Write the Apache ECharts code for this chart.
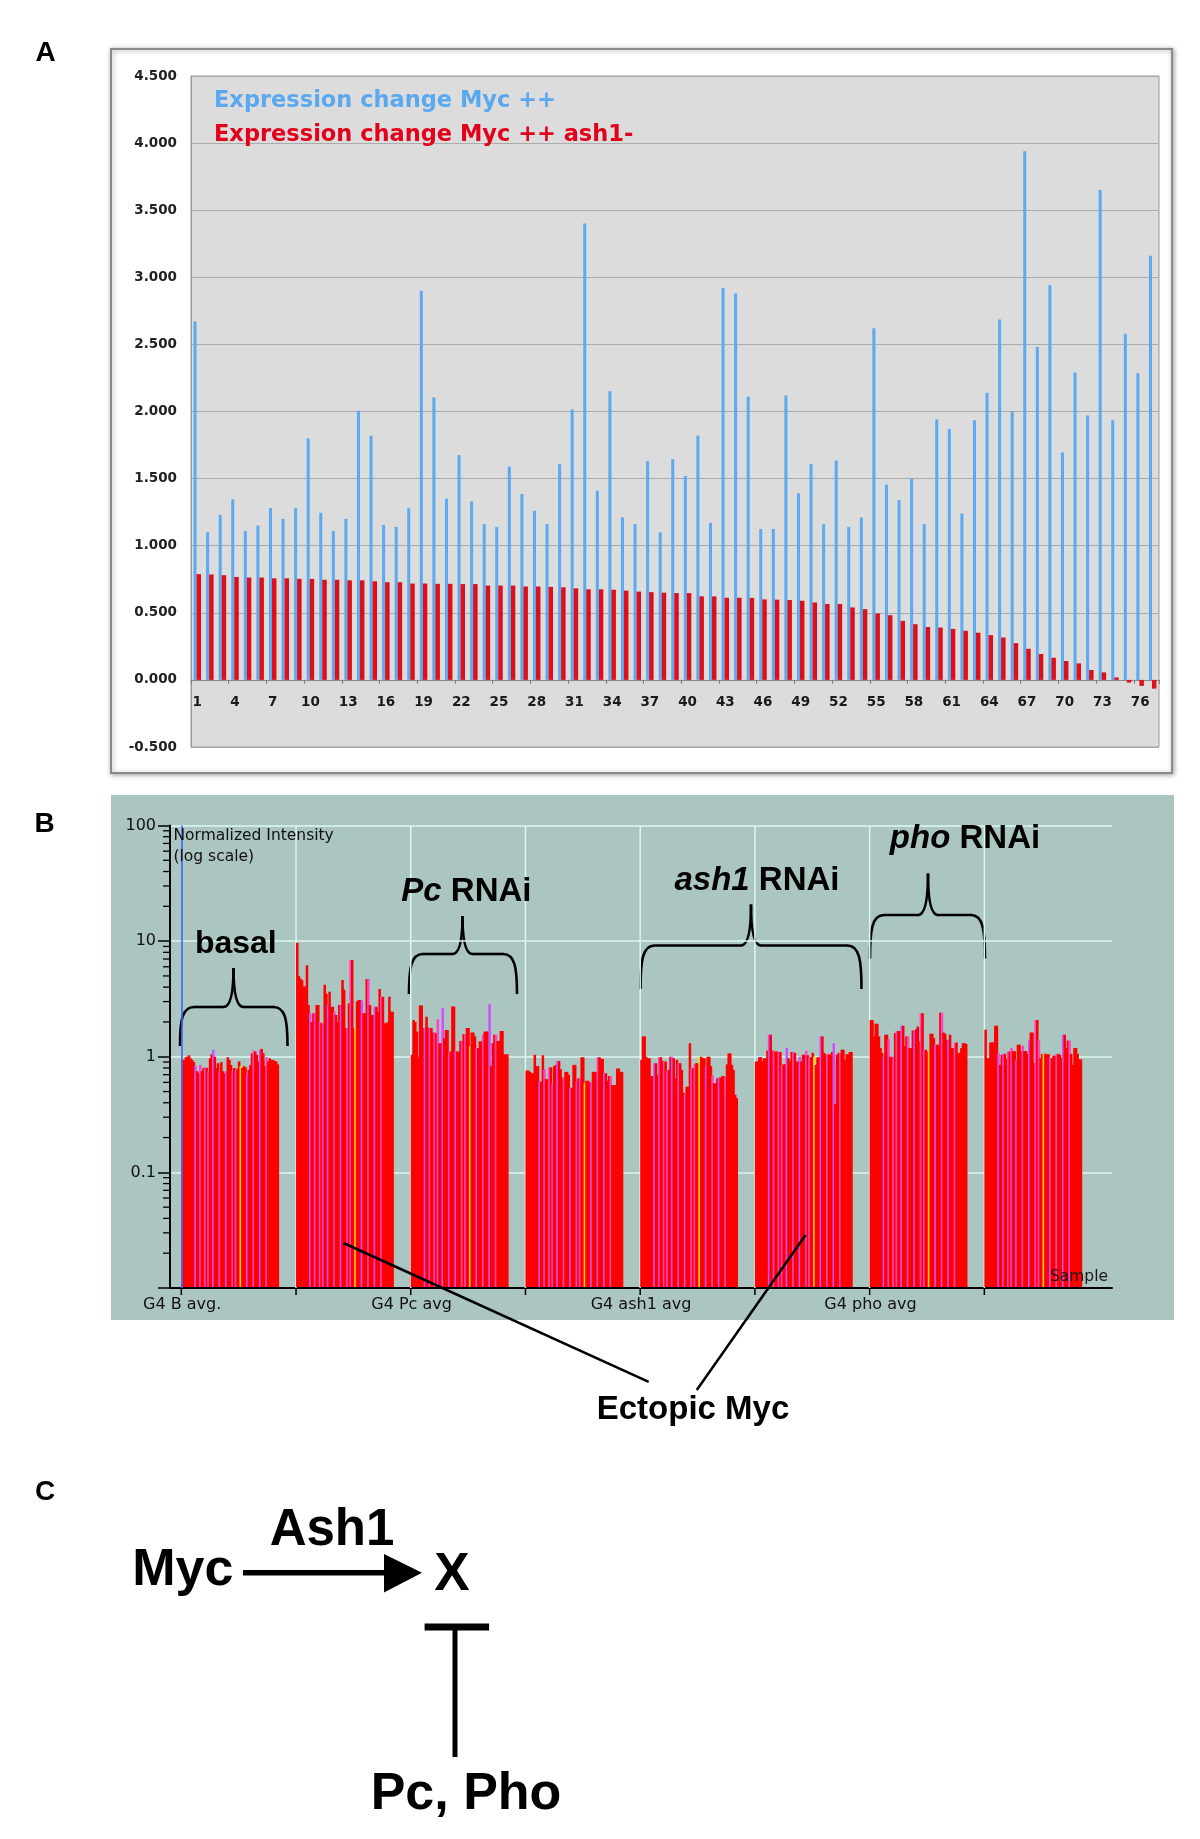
<!DOCTYPE html>
<html><head><meta charset="utf-8">
<script src="https://cdn.jsdelivr.net/npm/echarts@6/dist/echarts.min.js"></script>
<style>html,body{margin:0;padding:0;background:#fff}#c{width:1200px;height:1839px}</style>
</head><body><div id="c"></div>
<script>
// ---------- Panel A data ----------
const categoriesA = [1,2,3,4,5,6,7,8,9,10,11,12,13,14,15,16,17,18,19,20,21,22,23,24,25,26,27,28,29,30,31,32,33,34,35,36,37,38,39,40,41,42,43,44,45,46,47,48,49,50,51,52,53,54,55,56,57,58,59,60,61,62,63,64,65,66,67,68,69,70,71,72,73,74,75,76,77];
const changeMyc = [2.67,1.10,1.23,1.345,1.11,1.15,1.28,1.20,1.28,1.80,1.245,1.11,1.20,2.005,1.82,1.155,1.14,1.28,2.90,2.105,1.35,1.675,1.33,1.16,1.14,1.59,1.385,1.26,1.16,1.61,2.015,3.40,1.41,2.15,1.21,1.16,1.63,1.10,1.645,1.52,1.82,1.17,2.92,2.88,2.11,1.125,1.125,2.12,1.39,1.61,1.16,1.635,1.14,1.21,2.62,1.455,1.34,1.50,1.16,1.94,1.87,1.24,1.935,2.14,2.685,2.00,3.94,2.48,2.94,1.695,2.29,1.97,3.65,1.935,2.58,2.285,3.16];
const changeMycAsh1 = [0.788,0.785,0.78,0.767,0.763,0.763,0.757,0.757,0.753,0.753,0.746,0.746,0.742,0.742,0.735,0.728,0.728,0.718,0.718,0.716,0.716,0.714,0.714,0.703,0.703,0.703,0.696,0.696,0.693,0.69,0.682,0.675,0.675,0.672,0.665,0.658,0.654,0.65,0.647,0.647,0.623,0.622,0.612,0.612,0.611,0.60,0.598,0.595,0.59,0.577,0.566,0.566,0.54,0.527,0.496,0.482,0.44,0.415,0.394,0.39,0.38,0.366,0.352,0.334,0.316,0.274,0.232,0.193,0.165,0.141,0.123,0.074,0.056,0.018,-0.02,-0.045,-0.065];
const legendA = ['Expression change Myc ++', 'Expression change Myc ++ ash1-'];

// ---------- Panel B data (normalized intensity, 60 genes per sample) ----------
const sampleLabels = ['G4 B avg.', '', 'G4 Pc avg', '', 'G4 ash1 avg', '', 'G4 pho avg', ''];
const sBasal = [0.94,0.94,0.99,1.0,1.03,0.97,0.94,0.90,0.83,0.75,0.72,0.85,0.75,0.80,0.81,0.80,0.75,0.97,1.05,1.15,1.0,0.80,0.88,0.75,0.90,0.75,0.72,0.75,0.99,0.94,0.85,0.75,0.80,0.76,0.79,0.91,0.83,0.80,0.83,0.81,0.72,0.77,0.85,1.07,1.13,1.11,1.04,0.91,1.15,1.17,1.07,0.83,0.99,0.91,0.97,0.94,0.94,0.92,0.91,0.86];
const sMycPc1 = [9.7,5.0,4.75,4.6,4.05,4.05,6.2,2.8,2.38,2.0,2.38,2.38,2.8,2.8,2.0,1.95,1.9,4.2,3.5,2.8,3.65,2.7,2.7,2.45,2.3,2.0,2.8,2.8,4.6,3.8,1.77,1.77,2.9,6.85,6.85,1.77,1.77,3.0,3.1,3.1,3.05,2.38,2.38,4.7,4.7,2.8,2.3,2.3,2.7,2.7,2.45,3.85,3.3,3.3,1.95,1.95,2.0,3.3,2.45,2.45];
const sPc = [1.04,2.08,2.0,1.65,1.0,2.77,2.77,1.77,1.77,2.22,1.79,1.77,1.77,1.62,1.62,1.6,2.11,1.31,1.31,2.63,1.45,1.7,1.7,1.11,1.11,2.72,2.72,1.11,1.11,1.11,1.37,1.37,1.57,1.57,1.77,1.77,1.23,1.62,1.62,1.5,1.19,1.19,1.36,1.36,1.55,1.65,1.65,1.65,2.85,0.83,1.31,1.55,1.55,1.37,1.37,1.67,1.67,1.05,1.05,1.05];
const sMycAsh1a = [0.76,0.76,0.74,0.72,0.72,1.04,0.83,0.83,0.61,0.61,1.03,0.78,0.64,0.64,0.81,0.81,0.59,0.83,0.85,0.92,0.92,0.78,0.66,0.66,0.74,0.74,0.70,0.54,0.54,0.85,0.85,0.61,0.65,0.65,0.99,0.99,0.59,0.62,0.62,0.60,0.60,0.74,0.74,0.74,0.99,0.99,0.96,0.96,0.72,0.72,0.62,0.68,0.68,0.57,0.57,0.57,0.79,0.79,0.74,0.74];
const sAsh1 = [0.94,1.5,1.5,1.0,0.97,0.97,0.68,0.68,0.88,0.88,0.70,0.99,0.99,0.92,0.91,0.91,0.75,0.77,1.0,1.0,0.97,0.65,0.94,0.88,0.88,0.77,0.49,0.47,0.55,0.55,1.31,0.8,0.8,0.86,0.88,0.88,1.0,1.0,0.97,0.97,0.83,1.0,1.0,0.83,0.69,0.59,0.59,0.65,0.66,0.66,0.68,0.68,0.68,0.86,1.07,1.07,0.85,0.77,0.47,0.44];
const sMycAsh1b = [0.91,0.91,0.99,0.99,0.91,0.97,0.97,1.13,1.55,1.55,1.13,1.13,1.11,1.11,1.1,1.1,0.83,0.86,0.86,1.19,0.97,0.91,1.1,1.1,1.08,0.91,0.91,1.0,0.91,1.04,1.04,1.13,1.03,0.99,0.99,1.08,1.0,0.85,0.99,0.99,1.5,1.5,1.08,1.05,1.05,1.05,1.05,1.1,1.31,0.39,1.04,1.08,1.08,1.15,1.15,0.94,1.05,1.05,1.1,1.1];
const sPho = [2.08,2.08,1.5,1.93,1.93,1.5,1.19,1.08,1.0,1.55,1.55,1.42,1.0,1.0,1.0,1.6,1.67,1.67,1.67,1.85,1.85,1.23,1.5,1.5,1.19,1.19,1.69,1.69,1.73,1.83,1.36,2.38,2.38,1.15,1.15,1.11,1.11,1.58,1.58,1.45,1.27,1.27,1.27,2.4,2.4,1.62,1.58,1.4,1.4,1.55,1.19,1.19,1.31,1.33,1.08,1.08,1.19,1.31,1.31,1.29];
const sMycPho = [1.71,0.97,0.97,1.33,1.33,1.33,1.85,1.85,1.08,0.85,1.04,1.06,1.06,0.97,1.11,1.11,1.19,1.12,1.12,0.93,1.27,1.27,1.12,1.25,1.12,1.12,1.06,1.38,1.62,1.62,0.88,2.08,2.08,1.39,0.97,1.06,1.06,1.06,1.05,1.05,0.98,0.97,1.02,1.02,1.06,1.06,1.04,0.98,1.55,1.55,1.19,1.38,1.38,1.06,0.85,1.19,1.19,1.06,0.95,0.95];
const groupValues = [sBasal, sMycPc1, sPc, sMycAsh1a, sAsh1, sMycAsh1b, sPho, sMycPho];
const magentaGenes = [8,19,27,40,48];
const pinkGenes = [11,14,16,23,31,33,44,52];
const yellowGenes = [36];

// ---------- layout of sample slots on the category axis ----------
const LEAD = 7, PITCH = 71, TOTAL = 583;
const groupStart = groupValues.map((a, g) => LEAD + PITCH * g);
const slotCats = [];
for (let i = 0; i < TOTAL; i++) slotCats.push(String(i));
const slotLabel = {};
groupStart.forEach((s, g) => { if (sampleLabels[g]) slotLabel[s] = sampleLabels[g]; });
const barColors = ['#ff0000', '#ff45c0', '#d24dff', '#ffd21f'];
const dataB = [];
groupValues.forEach((arr, g) => arr.forEach((v, j) => {
  const code = magentaGenes.includes(j) ? 2 : pinkGenes.includes(j) ? 1 : yellowGenes.includes(j) ? 3 : 0;
  dataB.push([groupStart[g] + j, v, code]);
}));
const boundaryData = groupStart.map(s => [s, 1]);
const minorTicks = [];
[0.01, 0.1, 1, 10].forEach(d => { for (let m = 2; m <= 9; m++) minorTicks.push([0, +(m * d).toPrecision(3)]); });

const SANS = '"Liberation Sans", Arial, sans-serif';
const DJV = '"DejaVu Sans", Verdana, sans-serif';

function txt(x, y, text, size, opts) {
  opts = opts || {};
  return {
    type: 'text', x: x, y: y, z: 100,
    style: {
      text: text, fill: opts.fill || '#000',
      fontSize: size, fontWeight: opts.weight || 'bold', fontFamily: opts.family || SANS,
      fontStyle: opts.style || 'normal',
      textAlign: opts.align || 'center',
      textVerticalAlign: 'middle'
    }
  };
}
const BR = { fill: null, stroke: '#000', lineWidth: 2.6 };
function brace(xL, xR, yEnd, yH, xM, yP) {
  const re = 14, rp = 10, k = yH + (yEnd - yH) * 0.35;
  return {
    type: 'group', z: 100,
    children: [
      { type: 'bezierCurve', shape: { x1: xL, y1: yEnd, cpx1: xL, cpy1: k, cpx2: xL + 2, cpy2: yH, x2: xL + re, y2: yH }, style: BR },
      { type: 'line', shape: { x1: xL + re - 0.5, y1: yH, x2: xM - rp + 0.5, y2: yH }, style: BR },
      { type: 'bezierCurve', shape: { x1: xM - rp, y1: yH, cpx1: xM, cpy1: yH, x2: xM, y2: yP }, style: BR },
      { type: 'bezierCurve', shape: { x1: xM, y1: yP, cpx1: xM, cpy1: yH, x2: xM + rp, y2: yH }, style: BR },
      { type: 'line', shape: { x1: xM + rp - 0.5, y1: yH, x2: xR - re + 0.5, y2: yH }, style: BR },
      { type: 'bezierCurve', shape: { x1: xR - re, y1: yH, cpx1: xR - 2, cpy1: yH, cpx2: xR, cpy2: k, x2: xR, y2: yEnd }, style: BR }
    ]
  };
}
function richLabel(x, y, it, rest) {
  return {
    type: 'text', x: x, y: y, z: 100,
    style: {
      text: '{i|' + it + '}{n|' + rest + '}',
      rich: {
        i: { fontStyle: 'italic', fontWeight: 'bold', fontSize: 33, fontFamily: SANS, fill: '#000' },
        n: { fontWeight: 'bold', fontSize: 33, fontFamily: SANS, fill: '#000' }
      },
      fontSize: 33, fontWeight: 'bold', fontFamily: SANS, fill: '#000',
      textAlign: 'center', textVerticalAlign: 'middle'
    }
  };
}

const chart = echarts.init(document.getElementById('c'), null, { renderer: 'canvas' });
const option = {
  animation: false,
  backgroundColor: '#ffffff',
  grid: [
    { left: 191, top: 76, width: 968, height: 671, show: true, backgroundColor: '#dcdcdc', borderColor: '#9a9a9a', borderWidth: 1 },
    { left: 170, top: 825.5, width: 942, height: 462.5, show: false }
  ],
  xAxis: [
    {
      type: 'category', gridIndex: 0, data: categoriesA, position: 'bottom', offset: -67.1,
      axisLine: { onZero: false, lineStyle: { color: '#8c8c8c', width: 1 } },
      axisTick: { show: true, interval: 2, length: 4, lineStyle: { color: '#7a7a7a' } },
      axisLabel: { interval: 2, fontSize: 13.5, fontWeight: 'bold', fontFamily: DJV, color: '#1a1a1a', margin: 16 },
      splitLine: { show: false }
    },
    {
      type: 'category', gridIndex: 1, data: slotCats,
      axisLine: { lineStyle: { color: '#000', width: 2 } },
      axisTick: { show: false },
      axisLabel: { interval: (i) => slotLabel[i] !== undefined, formatter: (v, i) => slotLabel[i] || '', fontSize: 16, fontFamily: DJV, color: '#111', margin: 9 },
      splitLine: { show: false }
    }
  ],
  yAxis: [
    {
      type: 'value', gridIndex: 0, min: -0.5, max: 4.5, interval: 0.5,
      axisLine: { show: true, lineStyle: { color: '#999' } },
      axisTick: { show: false },
      axisLabel: { formatter: (v) => v.toFixed(3), fontSize: 13.5, fontWeight: 'bold', fontFamily: DJV, color: '#222', margin: 14 },
      splitLine: { show: true, lineStyle: { color: '#ababab', width: 1 } }
    },
    {
      type: 'log', gridIndex: 1, logBase: 10, min: 0.01, max: 100,
      axisLine: { show: true, lineStyle: { color: '#000', width: 2 } },
      axisTick: { show: true, length: 12, lineStyle: { color: '#000', width: 1.5 } },
      axisLabel: {
        fontSize: 16, fontFamily: DJV, color: '#111', margin: 14,
        formatter: (v) => { const e = Math.round(Math.log10(v)); return ({ '-1': '0.1', '0': '1', '1': '10', '2': '100' })[e] || ''; }
      },
      splitLine: { show: true, lineStyle: { color: '#dcf6f1', width: 1.5 } }
    }
  ],
  series: [
    {
      name: legendA[0], type: 'bar', xAxisIndex: 0, yAxisIndex: 0, data: changeMyc,
      barWidth: 3, barGap: '0%', itemStyle: { color: '#5aa9f3' }
    },
    {
      name: legendA[1], type: 'bar', xAxisIndex: 0, yAxisIndex: 0, data: changeMycAsh1,
      barWidth: 4.5, barGap: '0%', itemStyle: { color: '#dc101c' }
    },
    {
      name: 'sampleBoundaries', type: 'custom', xAxisIndex: 1, yAxisIndex: 1, data: boundaryData,
      encode: { x: 0, y: 1 }, z: 1, silent: true,
      renderItem: function (params, api) {
        const slot = api.value(0);
        const w = api.size([1, 1], [slot, 1])[0];
        const x = api.coord([slot, 1])[0] - w / 2;
        const cs = params.coordSys;
        const children = [
          { type: 'line', shape: { x1: x, y1: cs.y + cs.height, x2: x, y2: cs.y + cs.height + 7 }, style: { stroke: '#000', lineWidth: 1.5 } }
        ];
        if (slot !== LEAD) children.push({ type: 'line', shape: { x1: x, y1: cs.y, x2: x, y2: cs.y + cs.height }, style: { stroke: '#dcf6f1', lineWidth: 1.5 } });
        return { type: 'group', children: children };
      }
    },
    {
      name: 'Normalized Intensity', type: 'custom', xAxisIndex: 1, yAxisIndex: 1, data: dataB,
      encode: { x: 0, y: 1 }, z: 3,
      renderItem: function (params, api) {
        const slot = api.value(0), v = api.value(1), code = api.value(2);
        const top = api.coord([slot, v]);
        const base = api.coord([slot, 0.01]);
        const w = api.size([1, 1], [slot, 1])[0];
        return { type: 'rect', shape: { x: top[0] - w / 2, y: top[1], width: w + 0.9, height: base[1] - top[1] - 1 }, style: { fill: barColors[code] } };
      }
    },
    {
      name: 'minorTicks', type: 'custom', xAxisIndex: 1, yAxisIndex: 1, data: minorTicks,
      encode: { x: 0, y: 1 }, z: 5, silent: true,
      renderItem: function (params, api) {
        const p = api.coord([0, api.value(1)]);
        const x0 = params.coordSys.x;
        return { type: 'line', shape: { x1: x0 - 7, y1: p[1], x2: x0, y2: p[1] }, style: { stroke: '#000', lineWidth: 1.3 } };
      }
    },
    {
      name: 'marker', type: 'line', xAxisIndex: 1, yAxisIndex: 1, data: [], z: 6,
      markLine: { symbol: 'none', silent: true, label: { show: false }, lineStyle: { color: '#3a66ff', width: 1.6, type: 'solid' }, data: [{ xAxis: String(LEAD) }] }
    }
  ],
  graphic: [
    { type: 'rect', z: -10, shape: { x: 111, y: 49, width: 1061, height: 724 }, style: { fill: '#fff', stroke: '#8a8a8a', lineWidth: 2, shadowBlur: 5, shadowColor: 'rgba(0,0,0,0.35)', shadowOffsetX: 1, shadowOffsetY: 1 } },
    { type: 'rect', z: -10, shape: { x: 111, y: 795, width: 1063, height: 525 }, style: { fill: '#abc5c1' } },
    txt(45.5, 53, 'A', 28),
    txt(44.6, 824.6, 'B', 28),
    txt(45, 1492, 'C', 28),
    txt(214, 101, legendA[0], 22.5, { align: 'left', family: DJV, fill: '#5aa8f0' }),
    txt(214, 135, legendA[1], 22.5, { align: 'left', family: DJV, fill: '#e3001b' }),
    txt(173.5, 836.4, 'Normalized Intensity', 15.5, { align: 'left', family: DJV, weight: 'normal', fill: '#111' }),
    txt(173.5, 856.8, '(log scale)', 15.5, { align: 'left', family: DJV, weight: 'normal', fill: '#111' }),
    txt(1108, 1276.5, 'Sample', 15.5, { align: 'right', family: DJV, weight: 'normal', fill: '#1a1a1a' }),
    brace(180, 287.5, 1046, 1007, 233.5, 968),
    brace(409, 517, 994, 954, 462.5, 916),
    brace(640.5, 861.5, 989, 945.5, 751, 904.5),
    brace(870, 985, 958.5, 915, 928, 873.5),
    txt(235.8, 944.5, 'basal', 32),
    richLabel(466.4, 891.5, 'Pc', ' RNAi'),
    richLabel(757, 880.5, 'ash1', ' RNAi'),
    richLabel(965, 838.7, 'pho', ' RNAi'),
    { type: 'line', z: 100, shape: { x1: 343.5, y1: 1243, x2: 648.7, y2: 1381.8 }, style: { stroke: '#000', lineWidth: 2.5 } },
    { type: 'line', z: 100, shape: { x1: 805.6, y1: 1235, x2: 696.8, y2: 1390 }, style: { stroke: '#000', lineWidth: 2.5 } },
    txt(693, 1410, 'Ectopic Myc', 33),
    // Panel C
    txt(182.8, 1571, 'Myc', 52),
    txt(332, 1531, 'Ash1', 51),
    txt(452, 1575.5, 'X', 53),
    txt(466, 1794.5, 'Pc, Pho', 52),
    { type: 'line', z: 100, shape: { x1: 243, y1: 1572.7, x2: 388, y2: 1572.7 }, style: { stroke: '#000', lineWidth: 5.5 } },
    { type: 'polygon', z: 100, shape: { points: [[384, 1554], [384, 1592.5], [422, 1572.7]] }, style: { fill: '#000' } },
    { type: 'rect', z: 100, shape: { x: 424.6, y: 1623.5, width: 64.5, height: 7 }, style: { fill: '#000' } },
    { type: 'rect', z: 100, shape: { x: 452.5, y: 1630, width: 5, height: 127 }, style: { fill: '#000' } }
  ]
};
chart.setOption(option);
</script>
</body></html>
